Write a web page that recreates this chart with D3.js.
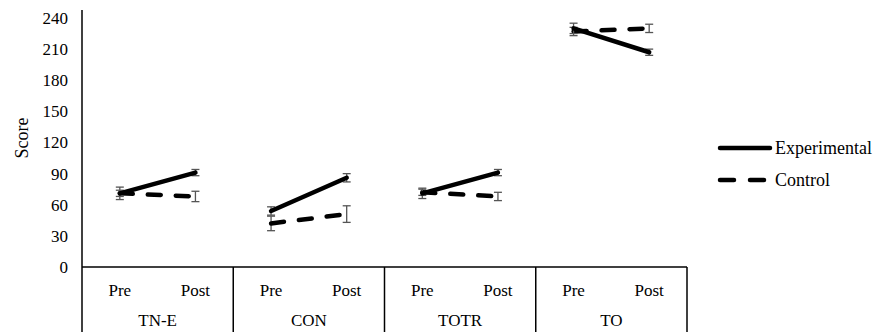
<!DOCTYPE html>
<html>
<head>
<meta charset="UTF-8">
<script src="https://cdn.jsdelivr.net/npm/d3@7"></script>
<style>
body { margin: 0; background: #fff; }
svg text { font-family: "Times New Roman", "Liberation Serif", Times, serif; fill: #000; }
</style>
</head>
<body>
<script>
var groups = ["TN-E", "CON", "TOTR", "TO"];
var phases = ["Pre", "Post"];
var yTicks = [0, 30, 60, 90, 120, 150, 180, 210, 240];
// values per group: [pre, post]
var expMean = [[71, 91], [54, 86], [71, 91], [230, 207]];
var expErr = [[6, 3], [4, 4], [5, 3], [5, 3]];
var conMean = [[71, 68], [42, 51], [72, 68], [227, 230]];
var conErr = [[3, 5], [7, 8], [3, 4], [4, 4]];
var seriesNames = ["Experimental", "Control"];

var W = 880, H = 332;
var serif = '"Times New Roman", "Liberation Serif", Times, serif';
var svg = d3.select("body").append("svg").attr("width", W).attr("height", H)
    .attr("font-family", serif);

var y = d3.scaleLinear().domain([0, 240]).range([267, 18]);
var x = d3.scaleBand().domain(groups).range([82, 687]);
var xp = d3.scalePoint().domain(phases).range([0, x.bandwidth()]).padding(0.5);

// y axis labels
var yAxis = d3.axisLeft(y).tickValues(yTicks).tickSize(0).tickPadding(14);
var ga = svg.append("g").attr("transform", "translate(82,0)").call(yAxis)
    .attr("font-family", serif).attr("font-size", 17);
ga.select(".domain").remove();
ga.selectAll("text").attr("fill", "#000");

// axis lines
svg.append("line").attr("x1", 82).attr("x2", 82).attr("y1", 10).attr("y2", H)
    .attr("stroke", "#000").attr("stroke-width", 1.5);
svg.append("line").attr("x1", 82).attr("x2", 687).attr("y1", y(0)).attr("y2", y(0))
    .attr("stroke", "#000").attr("stroke-width", 1.5);
groups.forEach(function(g){
    svg.append("line").attr("x1", x(g) + x.bandwidth()).attr("x2", x(g) + x.bandwidth())
        .attr("y1", y(0)).attr("y2", H).attr("stroke", "#000").attr("stroke-width", 1.5);
    phases.forEach(function(p){
        svg.append("text").attr("x", x(g) + xp(p)).attr("y", 296)
            .attr("text-anchor", "middle").attr("font-size", 17).text(p);
    });
    svg.append("text").attr("x", x(g) + x.bandwidth() / 2).attr("y", 326)
        .attr("text-anchor", "middle").attr("font-size", 17).text(g);
});

svg.append("text").attr("transform", "translate(28,138) rotate(-90)")
    .attr("text-anchor", "middle").attr("font-size", 18).text("Score");

function drawSeries(means, errs, dash){
    groups.forEach(function(g, gi){
        // error bars
        phases.forEach(function(p, pi){
            var cx = x(g) + xp(p), m = means[gi][pi], e = errs[gi][pi];
            var eb = svg.append("g").attr("stroke", "#555").attr("stroke-width", 1.3);
            eb.append("line").attr("x1", cx).attr("x2", cx).attr("y1", y(m - e)).attr("y2", y(m + e));
            eb.append("line").attr("x1", cx - 4).attr("x2", cx + 4).attr("y1", y(m - e)).attr("y2", y(m - e));
            eb.append("line").attr("x1", cx - 4).attr("x2", cx + 4).attr("y1", y(m + e)).attr("y2", y(m + e));
        });
        svg.append("line")
            .attr("x1", x(g) + xp("Pre")).attr("y1", y(means[gi][0]))
            .attr("x2", x(g) + xp("Post")).attr("y2", y(means[gi][1]))
            .attr("stroke", "#000").attr("stroke-width", 4.5)
            .attr("stroke-linecap", "round")
            .attr("stroke-dasharray", dash);
    });
}
drawSeries(conMean, conErr, "13,15");
drawSeries(expMean, expErr, null);

// legend
var leg = [[seriesNames[0], null, 148], [seriesNames[1], "14,16", 180]];
leg.forEach(function(l){
    svg.append("line").attr("x1", 720).attr("x2", 770).attr("y1", l[2]).attr("y2", l[2])
        .attr("stroke", "#000").attr("stroke-width", 4.5).attr("stroke-linecap", "round")
        .attr("stroke-dasharray", l[1]);
    svg.append("text").attr("x", 775).attr("y", l[2] + 6).attr("font-size", 18).text(l[0]);
});
</script>
</body>
</html>
